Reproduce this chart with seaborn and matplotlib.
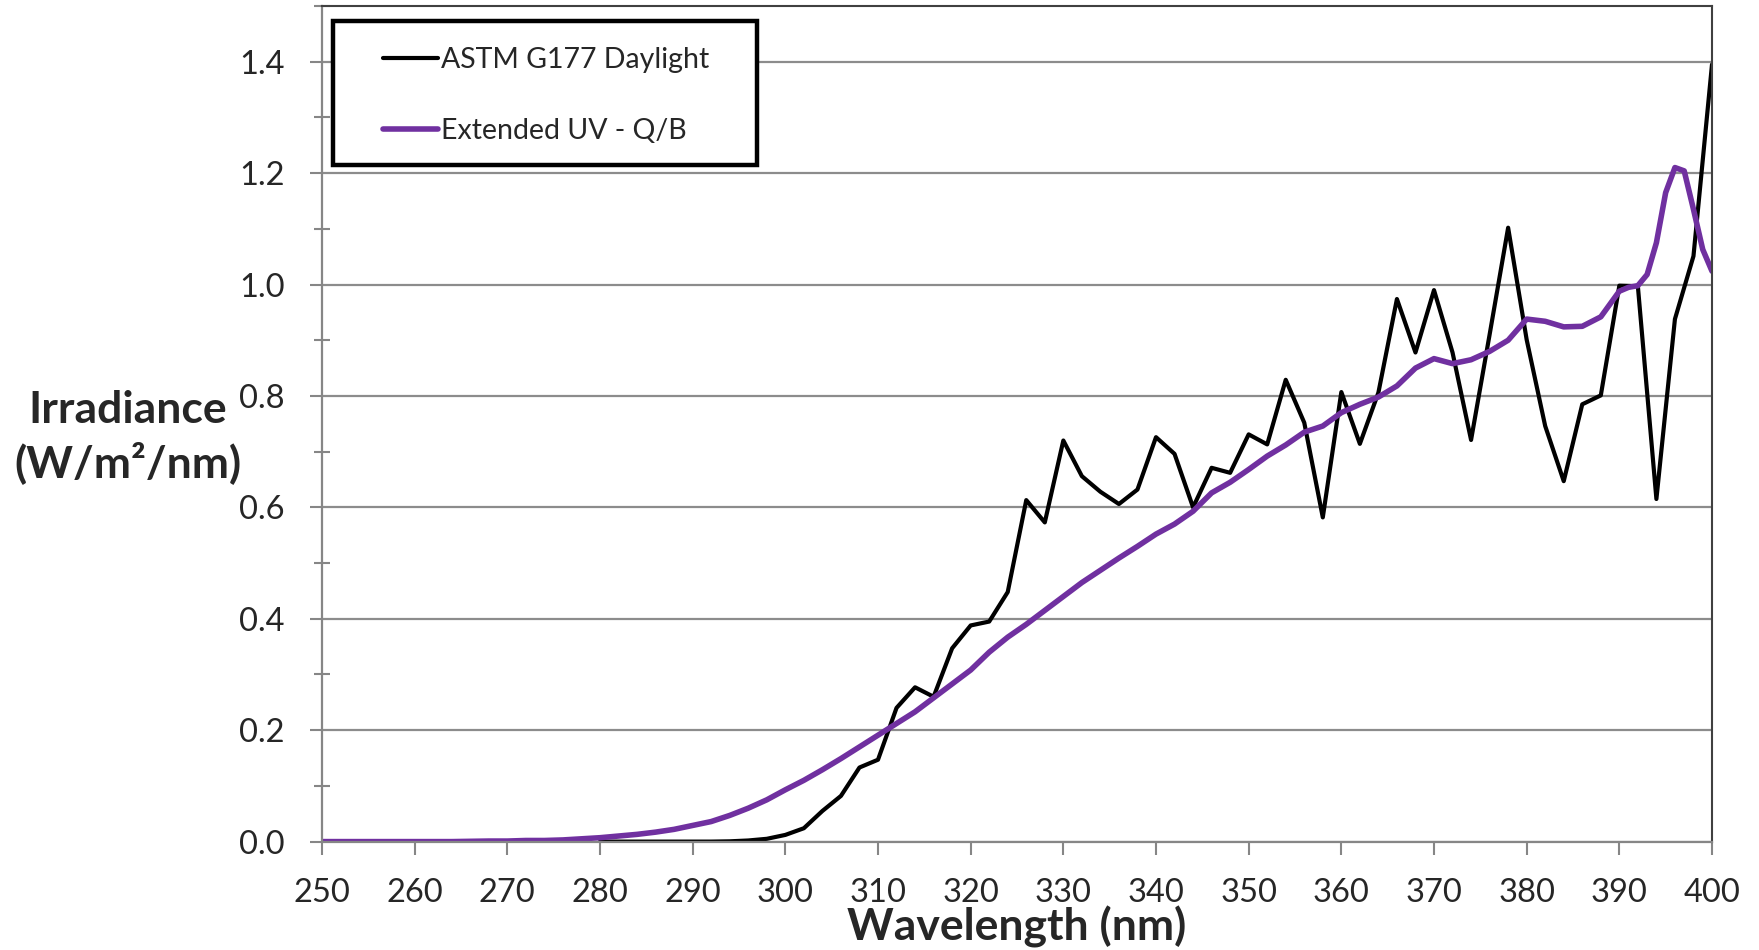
import numpy as np
import pandas as pd
import seaborn as sns
import matplotlib.pyplot as plt
from matplotlib.patches import Rectangle
from matplotlib.ticker import MultipleLocator

# ----- data -----
# ASTM G177 daylight, 2 nm steps from 280 to 400 nm
astm_wl = list(range(280, 401, 2))
astm_irr = [0.0, 0.0, 0.0, 0.0, 0.0, 0.0, 0.0, 0.0005, 0.002, 0.005,
            0.012, 0.024, 0.055, 0.082, 0.133, 0.147, 0.240, 0.277, 0.260, 0.347,
            0.388, 0.395, 0.448, 0.613, 0.573, 0.720, 0.656, 0.628, 0.606, 0.632,
            0.726, 0.696, 0.600, 0.671, 0.662, 0.731, 0.713, 0.829, 0.752, 0.582,
            0.807, 0.714, 0.806, 0.974, 0.878, 0.990, 0.878, 0.721, 0.910, 1.102,
            0.901, 0.746, 0.647, 0.785, 0.801, 0.998, 0.997, 0.615, 0.938, 1.051,
            1.395]

# Extended UV - Q/B lamp, 2 nm steps up to 388 nm then 1 nm steps
quv_wl = list(range(250, 388, 2)) + list(range(388, 401))
quv_irr = [0.0, 0.0, 0.0, 0.0, 0.0, 0.0, 0.0, 0.0, 0.0005, 0.001,
           0.001, 0.002, 0.002, 0.003, 0.005, 0.007, 0.010, 0.013, 0.017, 0.022,
           0.029, 0.036, 0.047, 0.060, 0.075, 0.093, 0.110, 0.129, 0.149, 0.170,
           0.191, 0.212, 0.233, 0.258, 0.283, 0.308, 0.340, 0.367, 0.390, 0.415,
           0.440, 0.465, 0.487, 0.509, 0.530, 0.552, 0.570, 0.593, 0.626, 0.645,
           0.668, 0.692, 0.712, 0.735, 0.746, 0.770, 0.785, 0.798, 0.818, 0.850,
           0.867, 0.858, 0.865, 0.880, 0.900, 0.938, 0.934, 0.924, 0.925,
           0.942, 0.965, 0.988, 0.995, 0.998, 1.018, 1.075, 1.165, 1.210, 1.204,
           1.135, 1.063, 1.024]

series_names = ['ASTM G177 Daylight', 'Extended UV - Q/B']
x_ticks = list(range(250, 401, 10))

astm = pd.DataFrame({'wl': astm_wl, 'irr': astm_irr})
quv = pd.DataFrame({'wl': quv_wl, 'irr': quv_irr})

sns.set_style('white')
plt.rcParams['font.family'] = ['Lato', 'DejaVu Sans']

fig = plt.figure(figsize=(17.59, 9.5), dpi=100)
ax = fig.add_axes([322 / 1759, 1 - 841.6 / 950, 1390 / 1759, 835.6 / 950])

sns.lineplot(data=astm, x='wl', y='irr', ax=ax, color='black', linewidth=3.0,
             label=series_names[0])
sns.lineplot(data=quv, x='wl', y='irr', ax=ax, color='#7030A0', linewidth=4,
             label=series_names[1])

ax.set_xlim(250, 400)
ax.set_ylim(0, 1.5)
ax.set_xticks(x_ticks)
ax.yaxis.set_major_locator(MultipleLocator(0.2))
ax.yaxis.set_minor_locator(MultipleLocator(0.1))
ax.yaxis.set_major_formatter(plt.FormatStrFormatter('%.1f'))

ax.grid(axis='y', which='major', color='#8c8c8c', linewidth=1.6)
ax.grid(axis='x', visible=False)
ax.set_axisbelow(True)

gray = '#868686'
for side in ['left', 'bottom']:
    ax.spines[side].set_color(gray)
    ax.spines[side].set_linewidth(1.6)
for side in ['top', 'right']:
    ax.spines[side].set_color('#404040')
    ax.spines[side].set_linewidth(1.5)

ax.tick_params(axis='x', which='major', direction='out', length=9, width=1.5,
               color=gray, labelsize=23.5, pad=17, bottom=True)
ax.tick_params(axis='y', which='major', direction='out', length=9, width=1.5,
               color=gray, labelsize=23.5, pad=18, left=True)
ax.tick_params(axis='y', which='minor', direction='inout', length=11, width=1.5,
               color=gray, left=True)

ax.set_xlabel('Wavelength (nm)', fontsize=32, fontweight='bold', labelpad=-1)
ax.set_ylabel('Irradiance\n(W/m²/nm)', fontsize=32, fontweight='bold',
              rotation=0, ha='center', va='center', linespacing=1.3)
ax.yaxis.set_label_coords(-0.1396, 0.484)

# legend: framed box drawn separately so the padding matches the original
ax.add_patch(Rectangle((0.0079, 0.8097), 0.305, 0.1723, transform=ax.transAxes,
                       facecolor='white', edgecolor='black', linewidth=3.2,
                       zorder=4))
leg = ax.legend(loc='upper left', bbox_to_anchor=(0.0439, 0.9515), frameon=False,
                fontsize=20.5, borderpad=0, borderaxespad=0, handlelength=1.93,
                handletextpad=0.12, labelspacing=1.6)
leg.set_zorder(5)

plt.savefig('out.png', dpi=100)
